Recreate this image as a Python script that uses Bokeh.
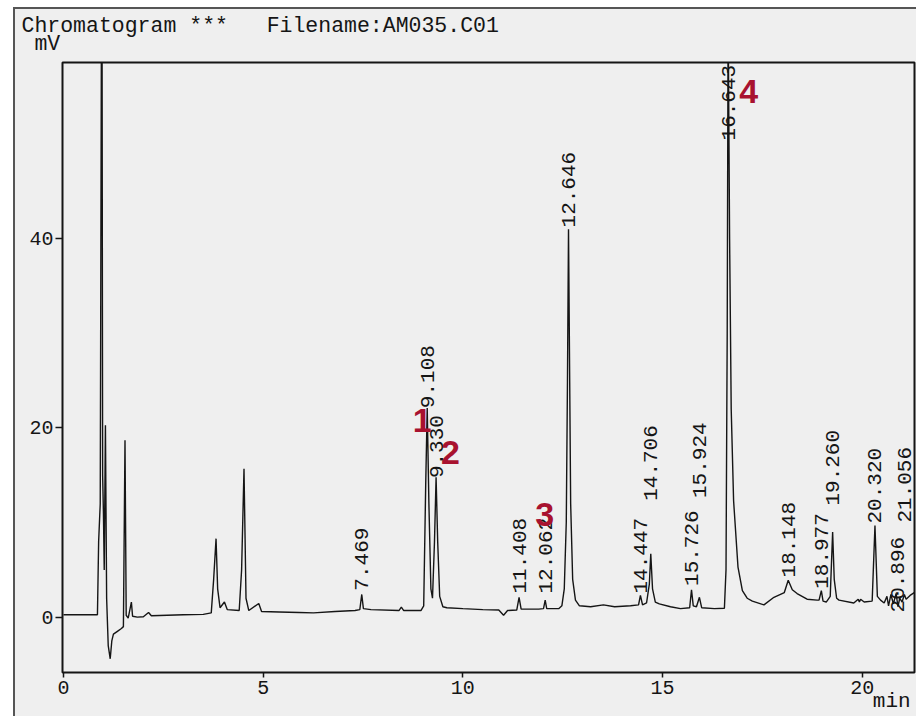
import math
from bokeh.plotting import figure
from bokeh.models import ColumnDataSource, FixedTicker, Range1d, Title
from bokeh.core.properties import value
from bokeh.embed import file_html
from bokeh.resources import INLINE

# ---- chromatogram trace (retention time in min, detector signal in mV) ----
rt_min = [
    0.00, 0.85, 0.88, 0.92, 0.96, 0.98, 1.00, 1.02, 1.05, 1.08, 1.12, 1.17, 1.21, 1.25, 1.35,
    1.45, 1.50, 1.54, 1.57, 1.62, 1.70, 1.73, 1.85, 2.00, 2.13, 2.20, 2.60, 3.00, 3.50, 3.70,
    3.76, 3.82, 3.86, 3.92, 4.03, 4.10, 4.40, 4.46, 4.52, 4.57, 4.64, 4.89, 4.96, 5.40, 5.90,
    6.26, 6.80, 7.30, 7.42, 7.469, 7.51, 7.70, 8.40, 8.46, 8.52, 8.95, 9.02, 9.07, 9.108, 9.15,
    9.20, 9.24, 9.29, 9.33, 9.37, 9.42, 9.50, 9.60, 10.00, 10.50, 10.90, 11.02, 11.12, 11.35,
    11.408, 11.46, 11.90, 12.02, 12.062, 12.10, 12.40, 12.48, 12.54, 12.59, 12.62, 12.646,
    12.67, 12.70, 12.75, 12.82, 12.92, 13.20, 13.52, 13.80, 14.20, 14.40, 14.447, 14.50, 14.60,
    14.67, 14.706, 14.75, 14.82, 14.92, 15.20, 15.45, 15.68, 15.726, 15.77, 15.85, 15.924,
    15.98, 16.30, 16.55, 16.59, 16.62, 16.643, 16.68, 16.72, 16.78, 16.89, 17.00, 17.12,
    17.25, 17.54, 17.79, 18.05, 18.148, 18.25, 18.37, 18.62, 18.87, 18.92, 18.977, 19.02,
    19.10, 19.20, 19.26, 19.30, 19.36, 19.42, 19.79, 19.90, 19.93, 19.96, 20.05, 20.25,
    20.32, 20.38, 20.46, 20.55, 20.62, 20.66, 20.72, 20.78, 20.85, 20.896, 20.94, 21.00,
    21.056, 21.10, 21.20, 21.38,
]
signal_mv = [
    0.25, 0.25, 8.0, 12.0, 80.0, 15.0, 11.0, 5.0, 20.3, 2.0, -3.0, -4.4, -2.5, -1.8, -1.5,
    -1.2, -1.0, 18.7, 0.2, -0.1, 1.6, 0.1, 0.0, 0.05, 0.5, 0.15, 0.2, 0.25, 0.3, 0.45,
    4.0, 8.3, 3.0, 1.0, 1.6, 0.8, 0.7, 5.0, 15.7, 2.0, 0.7, 1.45, 0.6, 0.55, 0.5,
    0.45, 0.6, 0.7, 0.8, 2.4, 0.9, 0.8, 0.7, 1.06, 0.7, 0.7, 1.2, 14.0, 22.1, 12.0,
    3.0, 2.0, 8.0, 14.8, 8.0, 2.2, 1.1, 1.0, 0.9, 0.8, 0.75, 0.2, 0.7, 0.75,
    2.1, 0.85, 0.85, 0.9, 1.8, 0.9, 0.9, 1.2, 3.0, 10.0, 25.0, 41.0,
    28.0, 12.0, 4.0, 1.8, 1.2, 1.1, 1.3, 1.1, 1.2, 1.3, 2.3, 1.3, 1.5,
    3.5, 6.7, 3.0, 1.6, 1.4, 1.1, 0.9, 1.0, 2.9, 1.2, 1.1, 2.1,
    1.0, 0.9, 0.95, 5.0, 30.0, 64.0, 40.0, 22.0, 12.3, 5.3, 2.8, 2.0,
    1.7, 1.3, 2.1, 2.6, 3.9, 2.9, 2.5, 1.9, 1.8, 1.8, 2.8, 1.7,
    1.6, 2.2, 9.0, 4.0, 2.0, 1.8, 1.5, 1.9, 1.6, 1.9, 1.6, 1.7,
    9.7, 2.2, 1.8, 1.5, 2.2, 1.2, 2.4, 1.4, 2.5, 1.1, 2.0, 1.6,
    2.4, 1.9, 2.3, 2.8,
]

# ---- integrator peak annotations (retention time printed above each peak) ----
peak_labels = ["7.469", "9.108", "9.330", "11.408", "12.062", "12.646", "14.447", "14.706",
               "15.726", "15.924", "16.643", "18.148", "18.977", "19.260", "20.320",
               "20.896", "21.056"]
peak_rt = [7.469, 9.108, 9.330, 11.408, 12.062, 12.646, 14.447, 14.706,
           15.726, 15.924, 16.643, 18.148, 18.977, 19.260, 20.320, 20.896, 21.056]
label_base_mv = [2.8, 22.1, 14.7, 2.5, 2.5, 41.2, 2.5, 12.3,
                 3.3, 12.6, 50.4, 4.2, 3.0, 11.8, 9.9, 0.5, 10.0]

# ---- compound numbers added in red ----
compound_ids = ["1", "2", "3", "4"]
compound_x = [8.98, 9.69, 12.05, 17.16]
compound_y = [20.8, 17.4, 10.9, 55.6]

x_ticks = [0, 5, 10, 15, 20]
y_ticks = [0, 20, 40]

BG = "#efefef"
INK = "#151515"
MONO = "Liberation Mono"
EDGE = "#555555"

page_bg = ("linear-gradient(to bottom, #ffffff 0px, #ffffff 7px, rgba(0,0,0,0) 7px), "
           "linear-gradient(to right, #ffffff 0px, #ffffff 13px, " + EDGE + " 13px, "
           + EDGE + " 15px, rgba(0,0,0,0) 15px), "
           "linear-gradient(to bottom, #ffffff 0px, #ffffff 7px, " + EDGE + " 7px, "
           + EDGE + " 9px, " + BG + " 9px)")

p = figure(width=916, height=716, title=None,
           x_range=Range1d(-0.025, 21.31), y_range=Range1d(-5.85, 58.64),
           output_backend="svg", toolbar_location=None,
           min_border_left=62, min_border_right=2, min_border_top=62, min_border_bottom=44,
           background_fill_color=BG, border_fill_color=None,
           styles={"background": page_bg})

p.xgrid.visible = False
p.ygrid.visible = False
p.outline_line_color = INK
p.outline_line_width = 2

p.xaxis.ticker = FixedTicker(ticks=x_ticks)
p.yaxis.ticker = FixedTicker(ticks=y_ticks)
for ax in (p.xaxis, p.yaxis):
    ax.axis_line_color = None
    ax.minor_tick_line_color = None
    ax.major_tick_in = 0
    ax.major_tick_line_color = INK
    ax.major_tick_line_width = 1.5
    ax.major_label_text_font = MONO
    ax.major_label_text_font_size = "20px"
    ax.major_label_text_color = INK
p.xaxis.major_tick_out = 5
p.xaxis.major_label_standoff = 3
p.yaxis.major_tick_out = 7
p.yaxis.major_label_standoff = 2

# x-axis unit "min": the centred axis label is padded on the left so that it
# ends at the right-hand edge of the frame, below the tick labels
xax = p.xaxis[0]
xax.axis_label = "\u00a0" * 64 + "min"
xax.axis_label_text_font = MONO
xax.axis_label_text_font_size = "21px"
xax.axis_label_text_font_style = "normal"
xax.axis_label_text_color = INK
xax.axis_label_standoff = -7

trace = ColumnDataSource(dict(t=rt_min, mv=signal_mv))
p.line("t", "mv", source=trace, line_color=INK, line_width=1.4)

lab_src = ColumnDataSource(dict(x=peak_rt, y=label_base_mv, text=peak_labels))
p.text("x", "y", text="text", source=lab_src, angle=math.pi / 2,
       text_align="left", text_baseline="middle",
       text_font=value(MONO), text_font_size="21px", text_color=INK)

cmp_src = ColumnDataSource(dict(x=compound_x, y=compound_y, text=compound_ids))
p.text("x", "y", text="text", source=cmp_src, text_align="center", text_baseline="middle",
       text_font=value("Liberation Sans"), text_font_style="bold",
       text_font_size="34px", text_color="#a8122f")

# two header lines above the frame: file caption and the signal unit
p.add_layout(Title(text="Chromatogram ***\u00a0\u00a0\u00a0Filename:AM035.C01\n\u00a0mV",
                   align="left", offset=-41, standoff=14, text_line_height=0.75,
                   text_font=MONO, text_font_size="21.5px", text_font_style="normal",
                   text_color=INK), "above")

open("out.html", "w").write(file_html(p, INLINE))
